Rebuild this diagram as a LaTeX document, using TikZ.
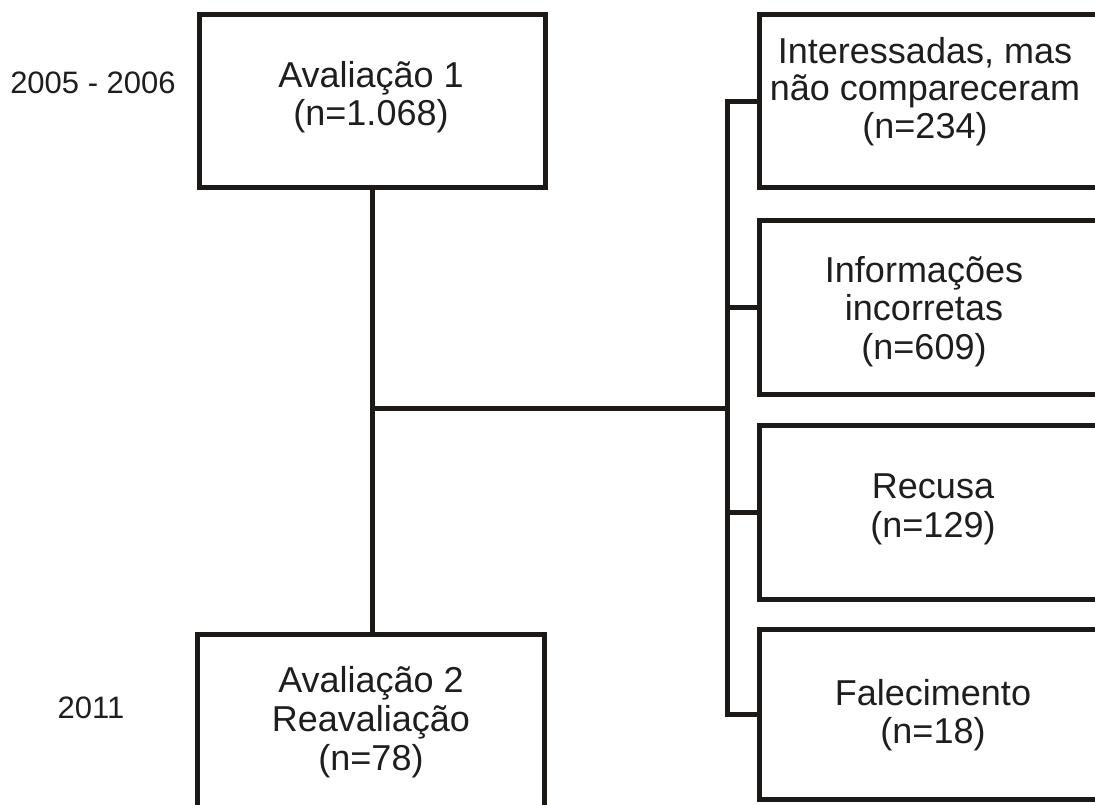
\documentclass[tikz,border=0pt]{standalone}
\usepackage{fontspec}
\setmainfont{Liberation Sans}
\definecolor{ink}{RGB}{28,25,22}
\definecolor{txt}{RGB}{30,30,30}
\begin{document}
\begin{tikzpicture}[x=1pt,y=-1pt,
  boxnode/.style={draw=ink,line width=5pt,rectangle,inner sep=0pt,outer sep=0pt,line join=miter},
  conn/.style={draw=ink,line width=5pt,line join=miter,line cap=butt},
  lbl/.style={anchor=base,inner sep=0pt,text=txt,font=\fontsize{36}{38}\selectfont},
  yearlbl/.style={anchor=base,inner sep=0pt,text=txt,font=\fontsize{31}{34}\selectfont}]
\useasboundingbox (0,0) rectangle (1095,804);
\clip (0,0) rectangle (1095,804);
% boxes
\node[boxnode,minimum width=346pt,minimum height=173pt] (top) at (372.5,101) {};
\node[boxnode,minimum width=347pt,minimum height=265pt] (bot) at (371,767) {};
\node[boxnode,minimum width=390pt,minimum height=173pt] (r1) at (954.5,101) {};
\node[boxnode,minimum width=390pt,minimum height=174pt] (r2) at (954.5,307.5) {};
\node[boxnode,minimum width=390pt,minimum height=174pt] (r3) at (954.5,512.5) {};
\node[boxnode,minimum width=390pt,minimum height=170pt] (r4) at (954.5,714.5) {};
% connectors
\coordinate (bus) at (727.5,408);
\coordinate (j) at (372.5,408);
\draw[conn] (top.south) -- (top.south |- bot.north);
\draw[conn] (j) -- (bus);
\draw[conn] (r1.west) -- (r1.west -| bus) -- (r4.west -| bus) -- (r4.west);
\draw[conn] (r2.west) -- (r2.west -| bus);
\draw[conn] (r3.west) -- (r3.west -| bus);
% texts
\node[lbl] (t1a) at (371,87) {Avaliação 1};
\node[lbl] (t1b) at (371,125) {(n=1.068)};
\node[lbl] (b1a) at (371,692) {Avaliação 2};
\node[lbl] (b1b) at (371,731) {Reavaliação};
\node[lbl] (b1c) at (371,770) {(n=78)};
\node[lbl] (r1a) at (925,63) {Interessadas, mas};
\node[lbl] (r1b) at (925,100) {não compareceram};
\node[lbl] (r1c) at (925,138) {(n=234)};
\node[lbl] (r2a) at (924,282) {Informações};
\node[lbl] (r2b) at (924,320) {incorretas};
\node[lbl] (r2c) at (924,359) {(n=609)};
\node[lbl] (r3a) at (933,498) {Recusa};
\node[lbl] (r3b) at (933,537) {(n=129)};
\node[lbl] (r4a) at (933,705) {Falecimento};
\node[lbl] (r4b) at (933,743) {(n=18)};
\node[yearlbl] (y1) at (93,93) {2005 - 2006};
\node[yearlbl] (y2) at (91,718) {2011};
\end{tikzpicture}
\end{document}
